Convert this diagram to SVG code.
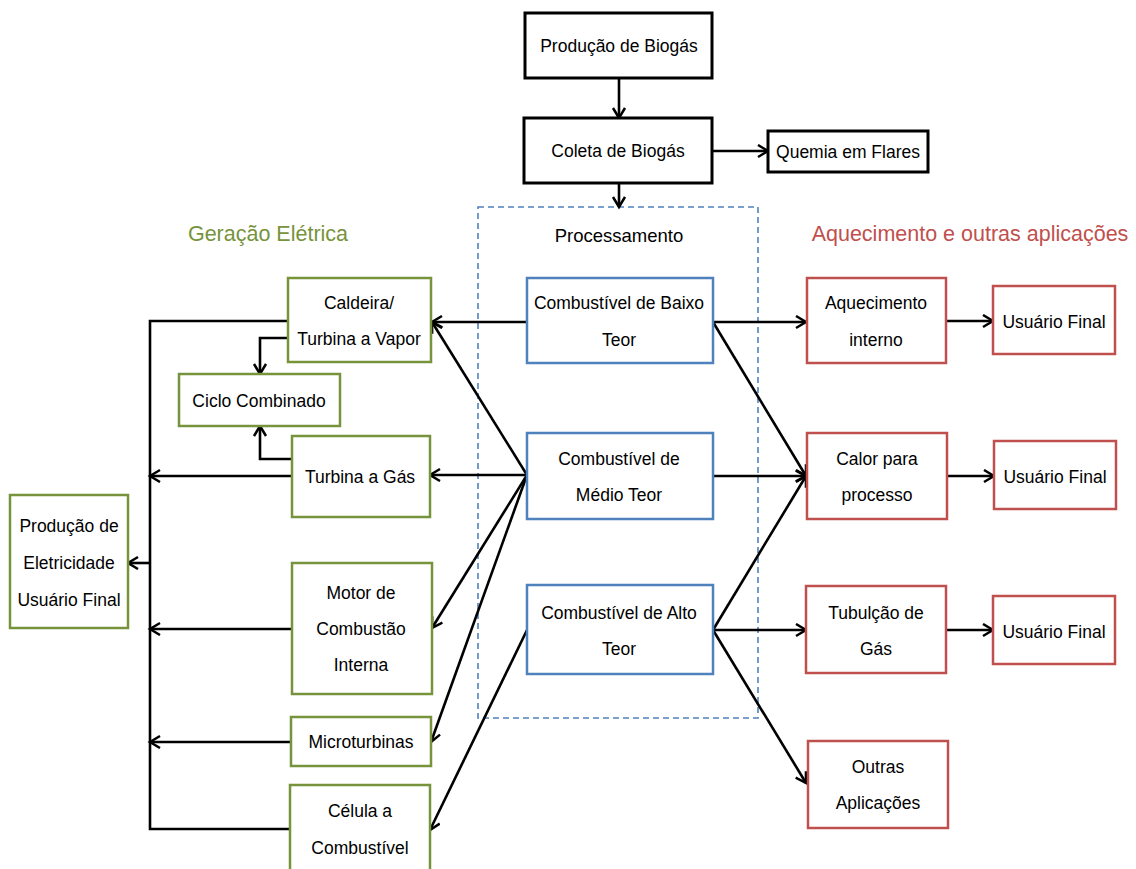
<svg xmlns="http://www.w3.org/2000/svg" width="1136" height="869" viewBox="0 0 1136 869">
  <defs>
    <marker id="arrow" markerUnits="userSpaceOnUse" markerWidth="14" markerHeight="16" refX="11" refY="7" orient="auto">
      <path d="M1,1 L11,7 L1,13" fill="none" stroke="#000" stroke-width="2.5" stroke-linejoin="miter"/>
    </marker>
    <style>
      text { font-family: "Liberation Sans", Arial, sans-serif; font-size: 17.5px; fill: #000; text-anchor: middle; }
      .title { font-size: 21.5px; }
      .proc { font-size: 18.5px; }
      .box-black { fill: #fff; stroke: #000; stroke-width: 3; }
      .box-green { fill: #fff; stroke: #77933C; stroke-width: 2.5; }
      .box-blue { fill: #fff; stroke: #4F81BD; stroke-width: 2.5; }
      .box-red { fill: #fff; stroke: #C0504D; stroke-width: 2.5; }
      .conn { fill: none; stroke: #000; stroke-width: 2.6; }
      .arr { marker-end: url(#arrow); }
    </style>
  </defs>
  <rect width="1136" height="869" fill="#fff"/>

  <!-- processing container -->
  <g id="processamento">
    <rect x="478" y="207" width="280" height="511" fill="none" stroke="#4F81BD" stroke-width="1.6" stroke-dasharray="6,4"/>
    <text class="proc" x="619" y="242">Processamento</text>
  </g>

  <!-- section headings -->
  <text class="title" x="268" y="241" style="fill:#77933C">Geração Elétrica</text>
  <text class="title" x="970" y="241" style="fill:#C0504D">Aquecimento e outras aplicações</text>

  <!-- connectors -->
  <g id="connectors">
    <path class="conn arr" d="M619,79 V118"/>
    <path class="conn arr" d="M713,151 H768"/>
    <path class="conn arr" d="M619,183 V207"/>

    <!-- fuels to electric generation -->
    <path class="conn arr" d="M527,322 H432"/>
    <path class="conn arr" d="M527,475 L432,322"/>
    <path class="conn arr" d="M527,475 H430"/>
    <path class="conn arr" d="M527,475 L432,628"/>
    <path class="conn arr" d="M527,475 L431,742"/>
    <path class="conn arr" d="M527,630 L430,830"/>

    <!-- combined cycle -->
    <path class="conn arr" d="M288,338 H260 V374"/>
    <path class="conn arr" d="M292,459 H260 V426"/>

    <!-- electricity collector -->
    <path class="conn" d="M288,321 H150 V829 H290"/>
    <path class="conn arr" d="M292,476 H150"/>
    <path class="conn arr" d="M292,629 H150"/>
    <path class="conn arr" d="M291,742 H150"/>
    <path class="conn arr" d="M150,563 H128"/>

    <!-- fuels to heating -->
    <path class="conn arr" d="M713,322 H806"/>
    <path class="conn arr" d="M713,322 L806,476"/>
    <path class="conn arr" d="M713,476 H806"/>
    <path class="conn arr" d="M713,630 L806,476"/>
    <path class="conn arr" d="M713,630 H806"/>
    <path class="conn arr" d="M713,630 L806,783"/>

    <!-- to end users -->
    <path class="conn arr" d="M946,321 H993"/>
    <path class="conn arr" d="M947,476 H994"/>
    <path class="conn arr" d="M946,630 H993"/>
  </g>

  <!-- top chain -->
  <g id="producao-biogas">
    <rect class="box-black" x="525" y="13" width="187" height="65"/>
    <text x="619" y="52">Produção de Biogás</text>
  </g>
  <g id="coleta-biogas">
    <rect class="box-black" x="524" y="118" width="188" height="65"/>
    <text x="618" y="157">Coleta de Biogás</text>
  </g>
  <g id="quemia-flares">
    <rect class="box-black" x="768" y="131" width="160" height="41"/>
    <text x="848" y="158">Quemia em Flares</text>
  </g>

  <!-- processing nodes -->
  <g id="baixo-teor">
    <rect class="box-blue" x="527" y="278" width="186" height="85"/>
    <text x="619" y="309">Combustível de Baixo</text>
    <text x="619" y="346">Teor</text>
  </g>
  <g id="medio-teor">
    <rect class="box-blue" x="527" y="433" width="186" height="86"/>
    <text x="619" y="465">Combustível de</text>
    <text x="619" y="501">Médio Teor</text>
  </g>
  <g id="alto-teor">
    <rect class="box-blue" x="527" y="585" width="186" height="89"/>
    <text x="619" y="619">Combustível de Alto</text>
    <text x="619" y="655">Teor</text>
  </g>

  <!-- electric generation nodes -->
  <g id="caldeira">
    <rect class="box-green" x="288" y="278" width="143" height="84"/>
    <text x="359" y="309">Caldeira/</text>
    <text x="359" y="345">Turbina a Vapor</text>
  </g>
  <g id="ciclo-combinado">
    <rect class="box-green" x="179" y="374" width="161" height="52"/>
    <text x="259" y="407">Ciclo Combinado</text>
  </g>
  <g id="turbina-gas">
    <rect class="box-green" x="292" y="436" width="138" height="81"/>
    <text x="360" y="483">Turbina a Gás</text>
  </g>
  <g id="motor-combustao">
    <rect class="box-green" x="292" y="563" width="140" height="131"/>
    <text x="361" y="599">Motor de</text>
    <text x="361" y="635">Combustão</text>
    <text x="361" y="671">Interna</text>
  </g>
  <g id="microturbinas">
    <rect class="box-green" x="291" y="717" width="140" height="49"/>
    <text x="361" y="748">Microturbinas</text>
  </g>
  <g id="celula-combustivel">
    <rect class="box-green" x="290" y="785" width="140" height="90"/>
    <text x="360" y="817">Célula a</text>
    <text x="360" y="854">Combustível</text>
  </g>
  <g id="producao-eletricidade">
    <rect class="box-green" x="10" y="495" width="118" height="133"/>
    <text x="69" y="532">Produção de</text>
    <text x="69" y="569">Eletricidade</text>
    <text x="69" y="606">Usuário Final</text>
  </g>

  <!-- heating and other applications nodes -->
  <g id="aquecimento-interno">
    <rect class="box-red" x="807" y="278" width="139" height="85"/>
    <text x="876" y="309">Aquecimento</text>
    <text x="876" y="346">interno</text>
  </g>
  <g id="calor-processo">
    <rect class="box-red" x="807" y="433" width="140" height="86"/>
    <text x="877" y="465">Calor para</text>
    <text x="877" y="501">processo</text>
  </g>
  <g id="tubulacao-gas">
    <rect class="box-red" x="806" y="586" width="140" height="87"/>
    <text x="876" y="619">Tubulção de</text>
    <text x="876" y="655">Gás</text>
  </g>
  <g id="outras-aplicacoes">
    <rect class="box-red" x="808" y="741" width="140" height="87"/>
    <text x="878" y="773">Outras</text>
    <text x="878" y="809">Aplicações</text>
  </g>
  <g id="usuario-final-1">
    <rect class="box-red" x="993" y="286" width="122" height="68"/>
    <text x="1054" y="328">Usuário Final</text>
  </g>
  <g id="usuario-final-2">
    <rect class="box-red" x="994" y="441" width="122" height="68"/>
    <text x="1055" y="483">Usuário Final</text>
  </g>
  <g id="usuario-final-3">
    <rect class="box-red" x="993" y="596" width="122" height="68"/>
    <text x="1054" y="638">Usuário Final</text>
  </g>
</svg>
